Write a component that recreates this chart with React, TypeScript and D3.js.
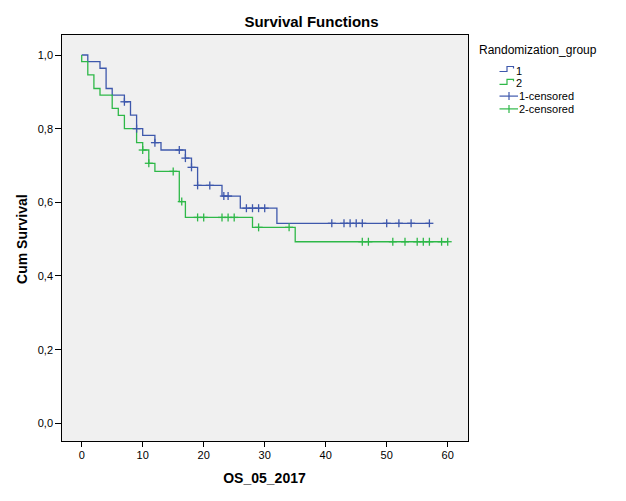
import React from 'react';
import * as d3 from 'd3';

// Group 1 (blue) Kaplan-Meier steps
const g1EventTimes = [1, 3, 4, 5, 7, 8, 9, 10, 12, 13, 17, 18, 19, 23, 26, 32];
const g1EventSurv = [0.982, 0.964, 0.909, 0.891, 0.873, 0.837, 0.8, 0.782, 0.762, 0.742, 0.72, 0.695, 0.646, 0.617, 0.584, 0.543];
const g1End = 57;
const g1Censored = [7, 9, 12, 16, 17, 18, 19, 21, 23.3, 24, 27, 28, 29, 30, 41, 43, 44, 45, 46, 50, 52, 54, 57];

// Group 2 (green) Kaplan-Meier steps
const g2EventTimes = [0, 1, 2, 3, 5, 6, 7, 9, 10, 11, 12, 16, 17, 28, 35];
const g2EventSurv = [0.982, 0.946, 0.909, 0.891, 0.855, 0.836, 0.8, 0.762, 0.742, 0.706, 0.684, 0.602, 0.559, 0.532, 0.493];
const g2End = 60;
const g2Censored = [10, 11, 15, 16.4, 19, 20, 23, 24, 25, 29, 34, 46, 47, 51, 53, 55, 56, 57, 59, 60];

const xTicks = [0, 10, 20, 30, 40, 50, 60];
const yTicks = [0, 0.2, 0.4, 0.6, 0.8, 1.0];
const legendLabels = ['1', '2', '1-censored', '2-censored'];

const BLUE = '#3e58ac';
const GREEN = '#2eb848';
const FONT = "Arial, 'Liberation Sans', sans-serif";

export default function App() {
  const x = d3.scaleLinear().domain([0, 60]).range([81.7, 447.7]);
  const y = d3.scaleLinear().domain([0, 1]).range([423.3, 55]);
  const frame = { left: 61, right: 468, top: 34, bottom: 441 };

  const stepLine = d3
    .line<[number, number]>()
    .x((d) => x(d[0]))
    .y((d) => y(d[1]))
    .curve(d3.curveStepAfter);

  const buildPts = (times: number[], surv: number[], end: number): [number, number][] => {
    const pts: [number, number][] = [[0, 1]];
    times.forEach((t, i) => pts.push([t, surv[i]]));
    pts.push([end, surv[surv.length - 1]]);
    return pts;
  };
  const survAt = (times: number[], surv: number[], t: number) => {
    let s = 1;
    times.forEach((tt, i) => {
      if (tt <= t) s = surv[i];
    });
    return s;
  };

  const series = [
    { times: g1EventTimes, surv: g1EventSurv, end: g1End, cens: g1Censored, color: BLUE },
    { times: g2EventTimes, surv: g2EventSurv, end: g2End, cens: g2Censored, color: GREEN },
  ];

  const fmt = (v: number) => d3.format('.1f')(v).replace('.', ',');
  const legendBase = [74.5, 87.3, 100.1, 112.9];
  const legendColors = [BLUE, GREEN, BLUE, GREEN];

  return (
    <div style={{ position: 'fixed', left: 0, top: 0 }}>
      <svg width={626} height={501} style={{ display: 'block', background: '#fff' }} fontFamily={FONT}>
        <rect x={0} y={0} width={626} height={501} fill="#fff" />
        <text x={311.5} y={27} textAnchor="middle" fontSize={15} fontWeight="bold" fill="#000">
          Survival Functions
        </text>
        <rect
          x={frame.left}
          y={frame.top}
          width={frame.right - frame.left}
          height={frame.bottom - frame.top}
          fill="#f0f0f0"
          stroke="#000"
          strokeWidth={1}
          shapeRendering="crispEdges"
        />
        {/* y axis */}
        {yTicks.map((v) => (
          <g key={'y' + v}>
            <line x1={55} x2={frame.left} y1={y(v)} y2={y(v)} stroke="#000" strokeWidth={1} shapeRendering="crispEdges" />
            <text x={53} y={y(v) + 4} textAnchor="end" fontSize={11} fill="#000">
              {fmt(v)}
            </text>
          </g>
        ))}
        {/* x axis */}
        {xTicks.map((v) => (
          <g key={'x' + v}>
            <line x1={x(v)} x2={x(v)} y1={frame.bottom} y2={frame.bottom + 6} stroke="#000" strokeWidth={1} shapeRendering="crispEdges" />
            <text x={x(v)} y={459} textAnchor="middle" fontSize={11} fill="#000">
              {v}
            </text>
          </g>
        ))}
        <text x={(frame.left + frame.right) / 2} y={483} textAnchor="middle" fontSize={14} fontWeight="bold" fill="#000">
          OS_05_2017
        </text>
        <text
          transform={`translate(27, ${y(0.5)}) rotate(-90)`}
          textAnchor="middle"
          fontSize={14}
          fontWeight="bold"
          fill="#000"
        >
          Cum Survival
        </text>
        {/* curves */}
        {series.map((s, i) => (
          <path key={'p' + i} d={stepLine(buildPts(s.times, s.surv, s.end)) || ''} fill="none" stroke={s.color} strokeWidth={1.3} />
        ))}
        {series.map((s, i) =>
          s.cens.map((t, j) => {
            const cx = x(t);
            const cy = y(survAt(s.times, s.surv, t));
            return (
              <g key={'c' + i + '-' + j} stroke={s.color} strokeWidth={1.3}>
                <line x1={cx} x2={cx} y1={cy - 4} y2={cy + 4} />
                <line x1={cx - 4} x2={cx + 4} y1={cy} y2={cy} />
              </g>
            );
          })
        )}
        {/* legend */}
        <text x={479} y={54} fontSize={12} fill="#000">
          Randomization_group
        </text>
        {legendLabels.map((lab, i) => {
          const b = legendBase[i];
          const c = legendColors[i];
          return (
            <g key={'l' + i}>
              {i < 2 ? (
                <path
                  d={`M499.5,${b - 3} H507 V${b - 8} H513.5 V${b - 6}`}
                  fill="none"
                  stroke={c}
                  strokeWidth={1.2}
                />
              ) : (
                <g stroke={c} strokeWidth={1.2}>
                  <line x1={499.5} x2={518} y1={b - 4} y2={b - 4} />
                  <line x1={509} x2={509} y1={b - 8} y2={b} />
                </g>
              )}
              <text x={i < 2 ? 516 : 519} y={b} fontSize={11} fill="#000">
                {lab}
              </text>
            </g>
          );
        })}
      </svg>
    </div>
  );
}
